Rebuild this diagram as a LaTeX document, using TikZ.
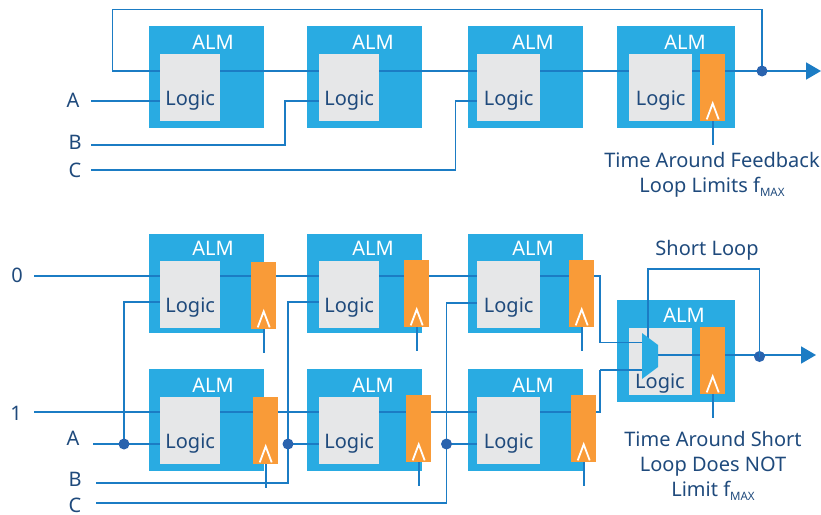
\documentclass[tikz,border=0pt]{standalone}
\usepackage{fontspec}
\setmainfont{Noto Sans}
\usetikzlibrary{calc,arrows.meta}

\definecolor{almblue}{HTML}{29ABE2}
\definecolor{logicgray}{HTML}{E6E7E8}
\definecolor{fforange}{HTML}{F99B38}
\definecolor{wireblue}{HTML}{1B7CC4}
\definecolor{dotblue}{HTML}{2A63AE}
\definecolor{textnavy}{HTML}{1F4A7C}

\newcommand{\fmax}{f\raisebox{-4pt}{\fontsize{11.5}{11.5}\selectfont MAX}}

\pgfdeclarelayer{almlayer}
\pgfdeclarelayer{wirelayer}
\pgfsetlayers{almlayer,wirelayer,main}

\tikzset{
    almbox/.style={fill=almblue, inner sep=0pt, anchor=north west},
    logicbox/.style={fill=logicgray, inner sep=0pt, anchor=north west, minimum height=67pt},
    ffbox/.style={fill=fforange, inner sep=0pt, anchor=north west, minimum width=25pt, minimum height=67pt},
    wire/.style={draw=wireblue, line width=1.8pt},
    clockhat/.style={draw=white, line width=1.8pt},
    joint/.style={circle, fill=dotblue, inner sep=0pt, minimum size=11pt},
    txt/.style={text=textnavy, font=\fontsize{20}{25}\selectfont, inner sep=0pt, align=center},
    almtxt/.style={text=white, font=\fontsize{20}{25}\selectfont, inner sep=0pt},
}

\begin{document}
\begin{tikzpicture}[x=1pt, y=-1pt]

    \useasboundingbox (0, 0) rectangle (821, 514);

    % ALM blocks with their logic
    \foreach \n/\x/\y/\w/\h/\lx/\ly/\lw/\tx/\ty in {
        a1/149/26/115/102/160/54/60/213/42, a2/307/26/115/102/319/54/60/373/42,
        a3/468/26/115/102/477/54/63/533/42, a4/617/26/118/102/629/54/63/685/42,
        b1/149/234/115/99/160/261/60/213/248, b2/307/234/115/99/319/261/60/373/248,
        b3/468/234/115/99/477/261/63/533/248,
        c1/149/369/115/102/160/397/60/213/385, c2/307/369/115/102/319/397/60/373/385,
        c3/468/369/115/102/477/397/63/533/385,
        d/617/300/118/102/629/328/63/684/315}
    {
        \begin{pgfonlayer}{almlayer}
            \node[almbox, minimum width=\w pt, minimum height=\h pt] (alm\n) at (\x, \y) {};
        \end{pgfonlayer}
        \node[almtxt] (almtxt\n) at (\tx, \ty) {ALM};
        \node[logicbox, minimum width=\lw pt] (logic\n) at (\lx, \ly) {};
    }

    \foreach \n in {a1, a2, a3, a4, b1, b2, b3, c1, c2, c3}
        \node[txt] (logictxt\n) at ([yshift=-12.5pt]logic\n.center) {Logic};

    % flip-flops
    \foreach \n/\x/\y in {a4/700/54, b1/251/262, b2/404/260, b3/569/260, c1/253/397, c2/406/395, c3/571/395, d/700/327}
    {
        \node[ffbox] (ff\n) at (\x, \y) {};
        \draw[clockhat] ([shift={(-6, -2)}]ff\n.south) -- ([yshift=18pt]ff\n.south) -- ([shift={(6, -2)}]ff\n.south);
        \coordinate (clk\n) at ([yshift=-24pt]ff\n.south);
        \begin{pgfonlayer}{wirelayer}
            \draw[wire] (ff\n.south) -- (clk\n);
        \end{pgfonlayer}
    }

    % input labels
    \foreach \n/\x/\y/\lab in {la/73/100.5/A, lb/75/142/B, lc/75/170/C, lzero/17/275.5/0, lone/16/413/1, lla/73/438/A, llb/75/479/B, llc/75/505.5/C}
        \node[txt] (\n) at (\x, \y) {\lab};

    \coordinate (ina) at (91, 101);
    \coordinate (inb) at (91, 145);
    \coordinate (inc) at (91, 170);
    \coordinate (turnb) at (285, 101);
    \coordinate (turnc) at (455.5, 101);
    \coordinate (fbstart) at (112.5, 71);
    \coordinate (fbturn) at (112.5, 9.5);
    \coordinate (outa) at (821, 71);
    \node[joint] (fbjoint) at (762, 71) {};

    \begin{pgfonlayer}{wirelayer}
        \draw[wire] (ina) -- (ina -| logica1.west);
        \draw[wire] (inb) -| (turnb) -- (turnb -| logica2.west);
        \draw[wire] (inc) -| (turnc) -- (turnc -| logica3.west);
        \draw[wire, -{Triangle[length=15pt, width=17pt]}] (fbjoint.center) |- (fbturn) -- (fbstart) -- (outa);
    \end{pgfonlayer}

    \coordinate (inzero) at (34, 276);
    \coordinate (inone) at (34, 412);
    \coordinate (inlla) at (93, 444);
    \coordinate (inllb) at (96, 483);
    \coordinate (inllc) at (96, 503);
    \coordinate (muxa) at (642, 342.5);
    \coordinate (muxb) at (642, 370);
    \coordinate (muxout) at (658, 355);
    \coordinate (turnzero) at (600, 342.5);
    \coordinate (turnone) at (600, 370);
    \coordinate (loopdown) at (648, 340);
    \coordinate (loopturn) at (648, 269);
    \coordinate (outd) at (816, 355);

    \node[joint] (jointa) at (124, 444) {};
    \node[joint] (jointb) at (288, 444) {};
    \node[joint] (jointc) at (446.5, 444) {};
    \node[joint] (loopjoint) at (759.5, 356.5) {};

    \coordinate (topa) at (124, 302);
    \coordinate (topb) at (288, 302);
    \coordinate (topc) at (446.5, 303);

    \begin{pgfonlayer}{wirelayer}
        \draw[wire] (inzero) -| (turnzero);
        \draw[wire] (inone) -| (turnone);
        \draw[wire] (inlla) -- (inlla -| logicc1.west);
        \draw[wire] (jointa.center) -- (topa) -- (topa -| logicb1.west);
        \draw[wire] (inllb) -| (topb) -- (topb -| logicb2.west);
        \draw[wire] (jointb.center) -- (jointb -| logicc2.west);
        \draw[wire] (inllc) -| (topc) -- (topc -| logicb3.west);
        \draw[wire] (jointc.center) -- (jointc -| logicc3.west);
    \end{pgfonlayer}

    % wires over the last logic block, then the mux
    \node[txt] (logictxtd) at (660, 384) {Logic};
    \draw[wire] (turnzero) -- (muxa);
    \draw[wire] (turnone) -- (muxb);
    \draw[wire] (loopjoint.center |- loopturn) -- (loopturn) -- (loopdown);
    \draw[wire] (loopjoint.center) -- (loopjoint.center |- loopturn);
    \draw[wire] (muxout) -- (muxout -| ffd.west);
    \begin{pgfonlayer}{wirelayer}
        \draw[wire, -{Triangle[length=15pt, width=17pt]}] (muxout -| ffd.west) -- (outd);
    \end{pgfonlayer}
    \fill[almblue] (642, 333) -- (658, 345) -- (658, 367) -- (642, 379) -- cycle;

    % captions
    \node[txt] (capfeedback) at (712, 175) {Time Around Feedback\\Loop Limits \fmax};
    \node[txt] (capname) at (707, 250) {Short Loop};
    \node[txt] (capshort) at (713, 465.5) {Time Around Short\\Loop Does NOT\\Limit \fmax};

\end{tikzpicture}
\end{document}
